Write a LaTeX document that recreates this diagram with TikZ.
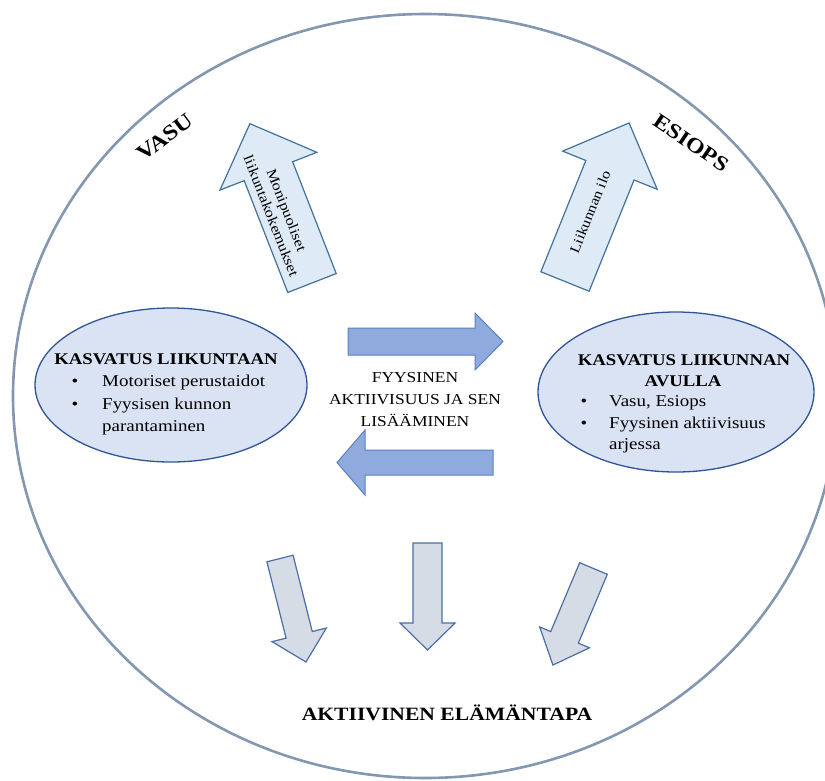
\documentclass[tikz,border=0pt]{standalone}
\usepackage{fontspec}
\setmainfont{Liberation Serif}[FakeStretch=1.15]
\definecolor{ringcol}{HTML}{8497B0}
\definecolor{ellfill}{HTML}{DAE3F3}
\definecolor{elldraw}{HTML}{2F5597}
\definecolor{upfill}{HTML}{DEEBF7}
\definecolor{updraw}{HTML}{41719C}
\definecolor{midfill}{HTML}{8FAADC}
\definecolor{middraw}{HTML}{5B7FC4}
\definecolor{downfill}{HTML}{D6DCE5}
\definecolor{downdraw}{HTML}{4A6FA5}
\tikzset{
  ring/.style={draw=ringcol, line width=2.6pt},
  oval/.style={draw=elldraw, fill=ellfill, line width=1.3pt},
  uparrow/.style={draw=updraw, fill=upfill, line width=1.2pt},
  midarrow/.style={draw=middraw, fill=midfill, line width=1.0pt},
  downarrow/.style={draw=downdraw, fill=downfill, line width=1.2pt},
  txt/.style={inner sep=0pt, font=\fontsize{16.5}{18}\selectfont},
  btxt/.style={inner sep=0pt, font=\bfseries\fontsize{16.3}{18}\selectfont},
  ctxt/.style={inner sep=0pt, font=\fontsize{15.2}{18}\selectfont},
}
% #1 style, #2 x, #3 y, #4 angle, #5 length, #6 shaft width, #7 head width, #8 head length
\newcommand{\barrow}[8]{%
  \begin{scope}[shift={(#2,#3)},rotate=#4]
    \draw[#1] (0,-#6/2) -- ({#5-#8},-#6/2) -- ({#5-#8},-#7/2) -- (#5,0)
      -- ({#5-#8},#7/2) -- ({#5-#8},#6/2) -- (0,#6/2) -- cycle;
  \end{scope}}
\begin{document}
\begin{tikzpicture}[x=1pt,y=-1pt]
\useasboundingbox (0,0) rectangle (825,780);
\begin{scope}
  \clip (0,0) rectangle (825,780);
  \draw[ring] (425,396) ellipse [x radius=412, y radius=382];
\end{scope}

% ovals
\draw[oval] (171,385) ellipse [x radius=136, y radius=77];
\draw[oval] (676,392) ellipse [x radius=138, y radius=80];

% up arrows
\barrow{uparrow}{312}{283}{111.3}{171}{52}{104}{51}
\barrow{uparrow}{565}{281.5}{68}{171}{52}{102}{51}

% horizontal arrows
\barrow{midarrow}{348}{341.5}{0}{155}{27}{57}{28}
\barrow{midarrow}{493}{462.5}{180}{156}{25}{65}{28}

% down arrows
\barrow{downarrow}{280}{558.5}{-75.9}{106.7}{27}{56}{28}
\barrow{downarrow}{427.5}{543}{-90}{107}{29}{55}{27}
\barrow{downarrow}{593.5}{568.5}{-112.8}{104.7}{30}{54}{30}

% rotated labels
\node[inner sep=0pt, font=\bfseries\fontsize{21.5}{24}\selectfont, rotate=37] (vasu) at (165,137) {VASU};
\node[inner sep=0pt, font=\bfseries\fontsize{21}{24}\selectfont, rotate=-34] (esiops) at (691,143) {ESIOPS};
\node[inner sep=0pt, align=center, font=\fontsize{14.2}{16.5}\selectfont, rotate=-68.7] (moni) at (279,213) {Monipuoliset\\liikuntakokemukset};
\node[inner sep=0pt, font=\fontsize{14}{16}\selectfont, rotate=68] (ilo) at (590,212) {Liikunnan ilo};

% left oval text
\node[btxt, anchor=base] (lh) at (166,364) {KASVATUS LIIKUNTAAN};
\node[txt, anchor=base] (lb1) at (75,386) {•};
\node[txt, anchor=base west] (l1) at (102,386) {Motoriset perustaidot};
\node[txt, anchor=base] (lb2) at (75,409) {•};
\node[txt, anchor=base west] (l2) at (102,409) {Fyysisen kunnon};
\node[txt, anchor=base west] (l3) at (102,431) {parantaminen};

% right oval text
\node[btxt, anchor=base] (rh1) at (684,365) {KASVATUS LIIKUNNAN};
\node[btxt, anchor=base] (rh2) at (683,386) {AVULLA};
\node[txt, anchor=base] (rb1) at (584,406) {•};
\node[txt, anchor=base west] (r1) at (609,406) {Vasu, Esiops};
\node[txt, anchor=base] (rb2) at (584,428) {•};
\node[txt, anchor=base west] (r2) at (609,428) {Fyysinen aktiivisuus};
\node[txt, anchor=base west] (r3) at (609,449) {arjessa};

% centre text
\node[ctxt, anchor=base] (c1) at (415,382) {FYYSINEN};
\node[ctxt, anchor=base] (c2) at (415,404) {AKTIIVISUUS JA SEN};
\node[ctxt, anchor=base] (c3) at (415,426) {LISÄÄMINEN};

% bottom
\node[inner sep=0pt, font=\bfseries\fontsize{18.8}{21}\selectfont] (akt) at (447,713) {AKTIIVINEN ELÄMÄNTAPA};
\end{tikzpicture}
\end{document}
